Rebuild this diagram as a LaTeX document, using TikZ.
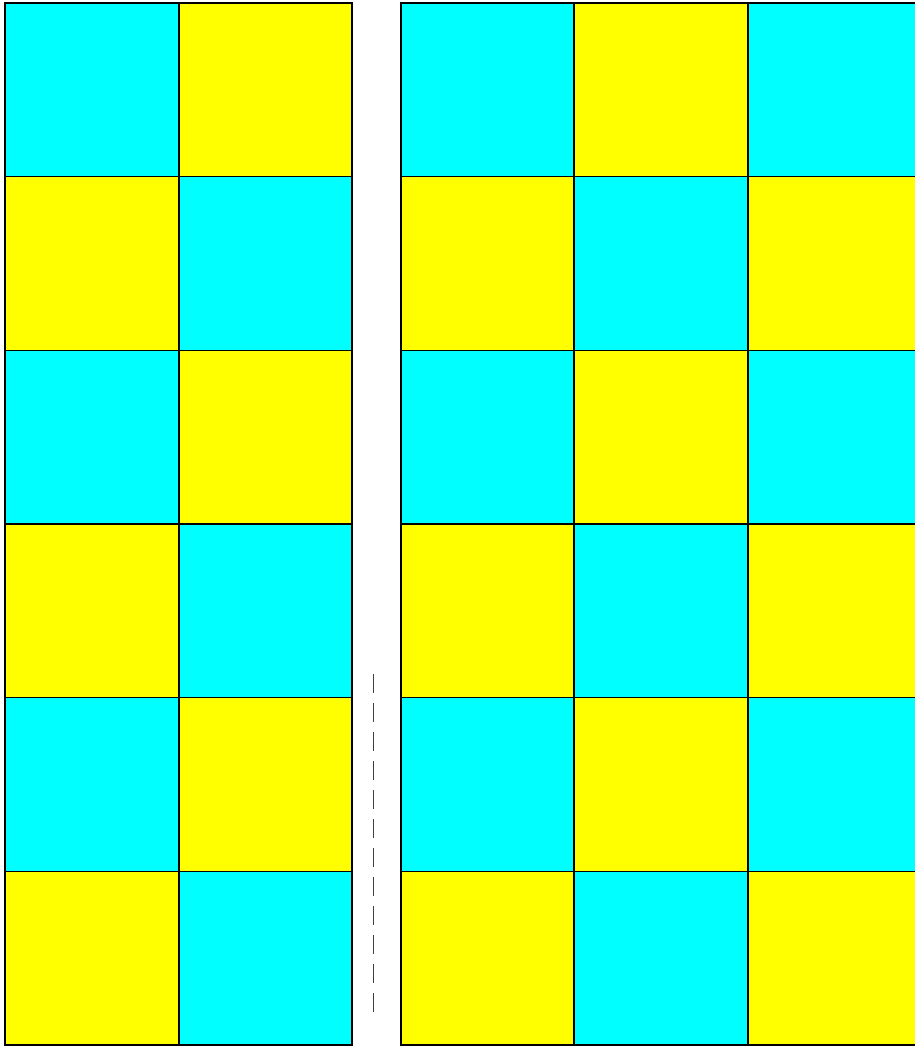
\documentclass[tikz,border=0pt]{standalone}
\definecolor{cy}{RGB}{0,255,255}
\definecolor{ye}{RGB}{255,255,0}
\tikzset{cell/.style={draw=black,line width=1.6pt}}
\begin{document}
\begin{tikzpicture}[x=1pt,y=-1pt]
\useasboundingbox (0,0) rectangle (915,1047);
\clip (0,0) rectangle (915,1047);
\def\rows{3,176.7,350.3,524,697.7,871.3,1045}
% left block
\foreach \c/\xa/\xb in {0/5/179,1/179/352}{
  \foreach \r in {0,...,5}{
    \pgfmathsetmacro{\ya}{3+\r*173.67}
    \pgfmathsetmacro{\yb}{3+(\r+1)*173.67}
    \pgfmathtruncatemacro{\p}{mod(\r+\c,2)}
    \ifnum\p=0 \def\col{cy}\else\def\col{ye}\fi
    \filldraw[cell,fill=\col] (\xa,\ya) rectangle (\xb,\yb);
  }
}
% right block
\foreach \c/\xa/\xb in {0/401/574,1/574/748,2/748/922}{
  \foreach \r in {0,...,5}{
    \pgfmathsetmacro{\ya}{3+\r*173.67}
    \pgfmathsetmacro{\yb}{3+(\r+1)*173.67}
    \pgfmathtruncatemacro{\p}{mod(\r+\c,2)}
    \ifnum\p=0 \def\col{cy}\else\def\col{ye}\fi
    \filldraw[cell,fill=\col] (\xa,\ya) rectangle (\xb,\yb);
  }
}
\coordinate (d1) at (373.5,674);
\coordinate (d2) at (373.5,1022);
\draw[black!75,line width=1.4pt,dash pattern=on 19pt off 10pt] (d1) -- (d2);
\end{tikzpicture}
\end{document}
